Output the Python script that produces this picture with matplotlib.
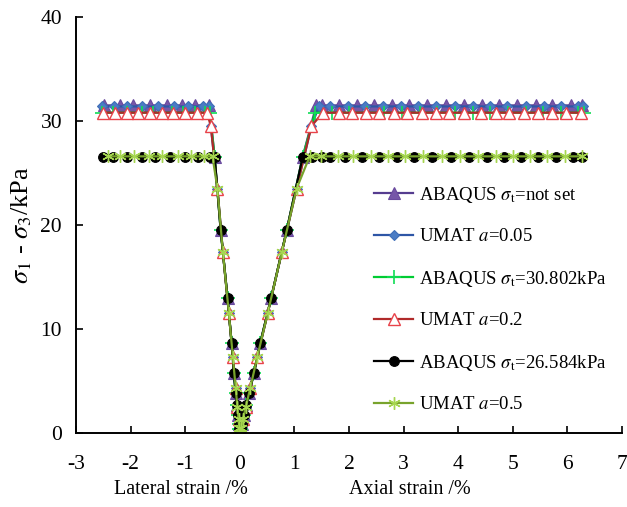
import matplotlib
matplotlib.use('Agg')
import matplotlib.pyplot as plt

# ---------------- data ----------------
# ABAQUS elastic increments (shared by the ABAQUS runs)
abq_el_stress = [0, 0.4, 0.9, 1.7, 2.7, 3.8, 5.8, 8.65, 13.0, 19.5, 26.5]
abq_el_axial = [0, 0.018, 0.04, 0.075, 0.12, 0.17, 0.26, 0.375, 0.575, 0.86, 1.15]
abq_el_lateral = [0, -0.007, -0.016, -0.03, -0.05, -0.075, -0.11, -0.15, -0.225, -0.35, -0.46]

# UMAT elastic increments (shared by the UMAT runs)
umat_el_stress = [0, 0.5, 1.3, 2.5, 4.3, 7.3, 11.5, 17.4, 23.5, 29.5]
umat_el_axial = [0, 0.022, 0.057, 0.11, 0.19, 0.32, 0.51, 0.77, 1.04, 1.31]
umat_el_lateral = [0, -0.009, -0.023, -0.044, -0.075, -0.127, -0.2, -0.31, -0.41, -0.53]

# plateau levels (kPa)
peak_notset = 31.5
peak_a005 = 31.4
peak_abq30 = 30.8
peak_a02 = 30.8
peak_abq26 = 26.58
peak_a05 = 26.6

# plateau strains
notset_pl_axial = [1.40, 1.50, 1.82, 2.15, 2.46, 2.79, 3.10, 3.43, 3.78, 4.11, 4.43, 4.74, 5.07, 5.42, 5.71, 6.06, 6.26]
notset_pl_lateral = [-0.56, -0.82, -1.06, -1.33, -1.64, -1.95, -2.19, -2.48]
a005_pl_axial = [1.45, 1.66, 1.98, 2.30, 2.62, 2.95, 3.27, 3.60, 3.94, 4.27, 4.59, 4.90, 5.24, 5.57, 5.88, 6.20, 6.28]
a005_pl_lateral = [-0.56, -0.68, -0.95, -1.20, -1.50, -1.80, -2.06, -2.30, -2.52]
abq30_pl_axial = [1.38, 1.68, 2.00, 2.33, 2.65, 2.97, 3.30, 3.62, 3.94, 4.27, 4.59, 4.91, 5.24, 5.56, 5.88, 6.20, 6.30]
abq30_pl_lateral = [-0.55, -0.64, -0.82, -1.04, -1.24, -1.59, -1.79, -2.06, -2.32, -2.52]
a02_pl_axial = [1.52, 1.82, 2.06, 2.32, 2.55, 2.83, 3.07, 3.34, 3.60, 3.83, 4.11, 4.42, 4.69, 4.93, 5.20, 5.47, 5.71, 5.97, 6.24]
a02_pl_lateral = [-0.60, -0.78, -1.00, -1.22, -1.42, -1.64, -1.86, -2.06, -2.28, -2.50]
abq26_pl_axial = [1.33, 1.50, 1.66, 1.93, 2.23, 2.55, 2.87, 3.19, 3.52, 3.87, 4.20, 4.53, 4.84, 5.15, 5.47, 5.80, 6.11, 6.26]
abq26_pl_lateral = [-0.55, -0.77, -1.00, -1.28, -1.55, -1.79, -2.06, -2.32, -2.50]
a05_pl_axial = [1.28, 1.48, 1.80, 2.08, 2.40, 2.71, 3.03, 3.36, 3.70, 4.03, 4.37, 4.69, 5.00, 5.31, 5.63, 5.95, 6.27]
a05_pl_lateral = [-0.50, -0.66, -0.89, -1.14, -1.42, -1.67, -1.93, -2.19, -2.42]

labels = [r'ABAQUS $\sigma_{\mathrm{t}}$=not set',
          r'UMAT $a$=0.05',
          r'ABAQUS $\sigma_{\mathrm{t}}$=30.802kPa',
          r'UMAT $a$=0.2',
          r'ABAQUS $\sigma_{\mathrm{t}}$=26.584kPa',
          r'UMAT $a$=0.5']
x_ticks = [-3, -2, -1, 0, 1, 2, 3, 4, 5, 6, 7]
y_ticks = [0, 10, 20, 30, 40]

# ---------------- style ----------------
plt.rcParams['font.family'] = ['Liberation Serif', 'DejaVu Serif']
plt.rcParams['mathtext.fontset'] = 'stix'

fig = plt.figure(figsize=(6.27, 5.07), dpi=100)
ax = fig.add_axes([76/627, 1-433/507, 546/627, 416/507])

def series(el_x, el_lat, el_y, n_el, pl_ax, pl_lat, peak):
    rx = el_x[:n_el] + pl_ax
    ry = el_y[:n_el] + [peak] * len(pl_ax)
    lx = el_lat[:n_el] + pl_lat
    ly = el_y[:n_el] + [peak] * len(pl_lat)
    return rx, ry, lx, ly

data = [
    series(abq_el_axial, abq_el_lateral, abq_el_stress, 11, notset_pl_axial, notset_pl_lateral, peak_notset),
    series(umat_el_axial, umat_el_lateral, umat_el_stress, 10, a005_pl_axial, a005_pl_lateral, peak_a005),
    series(abq_el_axial, abq_el_lateral, abq_el_stress, 11, abq30_pl_axial, abq30_pl_lateral, peak_abq30),
    series(umat_el_axial, umat_el_lateral, umat_el_stress, 10, a02_pl_axial, a02_pl_lateral, peak_a02),
    series(abq_el_axial, abq_el_lateral, abq_el_stress, 11, abq26_pl_axial, abq26_pl_lateral, peak_abq26),
    series(umat_el_axial, umat_el_lateral, umat_el_stress, 9, a05_pl_axial, a05_pl_lateral, peak_a05),
]

styles = [
    dict(color='#553C8F', marker='^', ms=8, mfc='#7656A8', mec='#6A4A9E', mew=0.8),
    dict(color='#2E56A6', marker='D', ms=5, mfc='#4A7CC4', mec='#3E6EB8', mew=0.8),
    dict(color='#00CC33', marker='+', ms=10, mfc='#00DD44', mec='#11DD55', mew=1.2),
    dict(color='#B02A2A', marker='^', ms=8, mfc='white', mec='#E8434A', mew=1.0),
    dict(color='#000000', marker='o', ms=7, mfc='#000000', mec='#000000', mew=0.8),
    dict(color='#78A32C', marker=(6, 2, 0), ms=9, mfc='#A6D650', mec='#A6D650', mew=1.0),
]

for (rx, ry, lx, ly), st, lab in zip(data, styles, labels):
    ax.plot(rx, ry, lw=1.6, label=lab, **st)
    ax.plot(lx, ly, lw=1.6, **st)

ax.set_xlim(-3, 7)
ax.set_ylim(0, 40)
ax.set_xticks(x_ticks)
ax.set_yticks(y_ticks)
ax.set_xticklabels([str(v) for v in x_ticks])
ax.set_yticklabels([str(v) for v in y_ticks])
for s in ['top', 'right']:
    ax.spines[s].set_visible(False)
for s in ['left', 'bottom']:
    ax.spines[s].set_linewidth(1.4)
ax.tick_params(axis='both', direction='in', length=5, width=1.2, labelsize=15.5)
ax.tick_params(axis='x', pad=16)
ax.tick_params(axis='y', pad=10)

fig.text(22/627, 1-225/507, r'$\sigma_1$ - $\sigma_3$/kPa', rotation=90,
         ha='center', va='center', fontsize=19)
fig.text(181/627, 1-489/507, 'Lateral strain /%', ha='center', va='center', fontsize=14.5)
fig.text(410/627, 1-489/507, 'Axial strain /%', ha='center', va='center', fontsize=14.5)

ax.legend(loc='center left', bbox_to_anchor=((374-76)/546, (433-299)/416),
          frameon=False, fontsize=13.5, labelspacing=1.25, handlelength=2.1,
          handletextpad=0.3, borderpad=0, borderaxespad=0)

fig.savefig('out.png', dpi=100)
